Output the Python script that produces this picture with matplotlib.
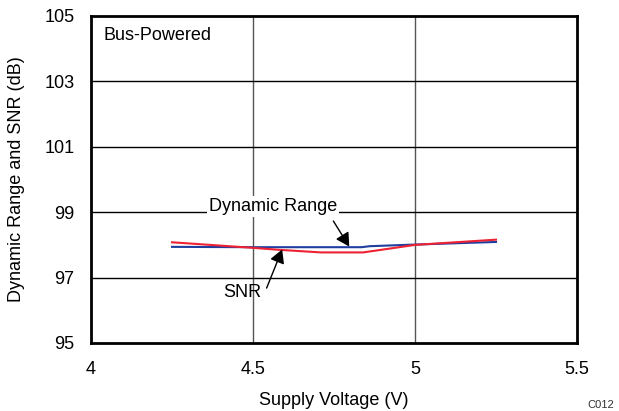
import matplotlib.pyplot as plt

dr_v = [4.25, 4.5, 4.6, 4.7, 4.835, 4.86, 4.97, 5.0, 5.25]
dr_db = [97.94, 97.93, 97.93, 97.93, 97.93, 97.96, 98.0, 98.01, 98.09]

snr_v = [4.25, 4.5, 4.58, 4.71, 4.84, 5.0, 5.25]
snr_db = [98.08, 97.91, 97.85, 97.77, 97.77, 98.0, 98.16]

xticks = [4, 4.5, 5, 5.5]
xticklabels = ["4", "4.5", "5", "5.5"]
yticks = [95, 97, 99, 101, 103, 105]

plt.rcParams['font.family'] = ['Liberation Sans', 'DejaVu Sans']

fig = plt.figure(figsize=(6.19, 4.11), dpi=100)
ax = fig.add_axes([91/619, 1-343/411, 486/619, 327/411])

for x in xticks[1:-1]:
    ax.axvline(x, color="#555555", lw=1, zorder=1)
for y in yticks[1:-1]:
    ax.axhline(y, color="black", lw=1, zorder=1)

ax.plot(dr_v, dr_db, color="#1f3f9f", lw=1.5, zorder=3)
ax.plot(snr_v, snr_db, color="#ee2233", lw=1.5, zorder=3)

ax.set_xlim(4, 5.5)
ax.set_ylim(95, 105)
ax.set_xticks(xticks)
ax.set_xticklabels(xticklabels)
ax.set_yticks(yticks)
ax.tick_params(axis="x", length=0, labelsize=13, pad=13)
ax.tick_params(axis="y", length=0, labelsize=13, pad=12)
for s in ax.spines.values():
    s.set_linewidth(2)

ax.set_xlabel("Supply Voltage (V)", fontsize=13, labelpad=10)
ax.set_ylabel("Dynamic Range and SNR (dB)", fontsize=13, labelpad=14)

ax.text(4.04, 104.4, "Bus-Powered", fontsize=13, va="center", ha="left")

arrow = dict(arrowstyle="-|>,head_length=0.45,head_width=0.25", color="black",
             lw=1, mutation_scale=18, shrinkA=0, shrinkB=0)

ax.text(4.562, 99.17, "Dynamic Range", fontsize=13, ha="center", va="center",
        zorder=4, bbox=dict(boxstyle="square,pad=0.1", fc="white", ec="none"))
ax.annotate("", xy=(4.797, 97.95), xytext=(4.748, 98.73), zorder=4,
            arrowprops=arrow)
ax.text(4.468, 96.53, "SNR", fontsize=13, ha="center", va="center", zorder=4)
ax.annotate("", xy=(4.59, 97.86), xytext=(4.542, 96.68), zorder=4,
            arrowprops=arrow)

fig.text(587/619, 0.003, "C012", fontsize=8, color="#333333", ha="left", va="bottom")

fig.savefig("out.png", dpi=100)
